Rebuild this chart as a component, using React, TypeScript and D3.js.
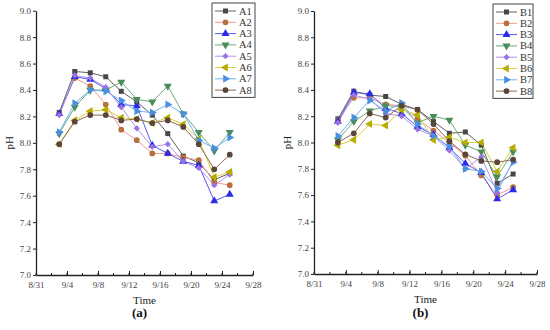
import React, { useEffect, useRef } from 'react';
import * as d3 from 'd3';

// sampling dates (every two days) and axis ticks
const dates = ['9/3', '9/5', '9/7', '9/9', '9/11', '9/13', '9/15', '9/17', '9/19', '9/21', '9/23', '9/25'];
const xTicks = ['8/31', '9/4', '9/8', '9/12', '9/16', '9/20', '9/24', '9/28'];
const yTicks = [7.0, 7.2, 7.4, 7.6, 7.8, 8.0, 8.2, 8.4, 8.6, 8.8, 9.0];

const A1 = [8.23, 8.54, 8.53, 8.50, 8.39, 8.31, 8.21, 8.07, 7.90, 7.85, 7.72, 7.77];
const A2 = [8.22, 8.49, 8.43, 8.29, 8.10, 8.02, 7.92, 7.92, 7.89, 7.87, 7.70, 7.68];
const A3 = [8.22, 8.50, 8.48, 8.41, 8.29, 8.28, 7.98, 7.92, 7.86, 7.83, 7.56, 7.61];
const A4 = [8.07, 8.27, 8.40, 8.40, 8.46, 8.33, 8.31, 8.43, 8.22, 8.08, 7.94, 8.08];
const A5 = [8.21, 8.51, 8.49, 8.42, 8.27, 8.11, 7.97, 7.99, 7.86, 7.81, 7.68, 7.76];
const A6 = [7.99, 8.17, 8.24, 8.25, 8.19, 8.18, 8.15, 8.19, 8.14, 8.03, 7.74, 7.78];
const A7 = [8.08, 8.30, 8.40, 8.39, 8.32, 8.24, 8.23, 8.29, 8.22, 8.02, 7.96, 8.04];
const A8 = [7.99, 8.16, 8.21, 8.21, 8.17, 8.18, 8.15, 8.17, 8.12, 7.99, 7.80, 7.91];

const B1 = [8.18, 8.39, 8.36, 8.35, 8.29, 8.25, 8.16, 8.07, 8.08, 7.98, 7.69, 7.76];
const B2 = [8.17, 8.34, 8.34, 8.29, 8.28, 8.18, 8.09, 8.00, 7.90, 7.75, 7.60, 7.66];
const B3 = [8.16, 8.38, 8.37, 8.26, 8.22, 8.12, 8.06, 7.96, 7.84, 7.77, 7.57, 7.64];
const B4 = [8.02, 8.16, 8.24, 8.28, 8.27, 8.15, 8.20, 8.17, 7.98, 7.93, 7.74, 7.93];
const B5 = [8.15, 8.36, 8.33, 8.22, 8.20, 8.10, 8.05, 7.94, 7.80, 7.89, 7.62, 7.86];
const B6 = [7.98, 8.02, 8.14, 8.13, 8.25, 8.21, 8.02, 8.04, 8.00, 8.00, 7.78, 7.96];
const B7 = [8.05, 8.19, 8.32, 8.24, 8.30, 8.14, 8.05, 7.97, 7.80, 7.78, 7.65, 7.85];
const B8 = [8.00, 8.07, 8.22, 8.19, 8.28, 8.25, 8.14, 8.01, 7.91, 7.86, 7.85, 7.87];

const seriesA = [A1, A2, A3, A4, A5, A6, A7, A8];
const seriesB = [B1, B2, B3, B4, B5, B6, B7, B8];
const namesA = ['A1', 'A2', 'A3', 'A4', 'A5', 'A6', 'A7', 'A8'];
const namesB = ['B1', 'B2', 'B3', 'B4', 'B5', 'B6', 'B7', 'B8'];

const markerColors = ['#474747', '#b8703c', '#2b2be6', '#4a8c5c', '#9a72e6', '#b5ad00', '#4a8fe0', '#5a4538'];
const lineColors = ['#606060', '#f29a92', '#5656f0', '#6aaa7c', '#ae92f0', '#dccf3a', '#70b2f2', '#87695a'];
// marker shape + rotation + area
const shapes: [d3.SymbolType, number, number][] = [
  [d3.symbolSquare, 0, 25],
  [d3.symbolCircle, 0, 26],
  [d3.symbolTriangle, 0, 28],
  [d3.symbolTriangle, 180, 28],
  [d3.symbolSquare, 45, 20],
  [d3.symbolTriangle, -90, 28],
  [d3.symbolTriangle, 90, 28],
  [d3.symbolCircle, 0, 26],
];

const parse = d3.timeParse('%m/%d/%Y');
const toDate = (s: string) => parse(s + '/2020') as Date;
const font = '"Liberation Serif", "DejaVu Serif", serif';

const App = () => {
  const svgRef = useRef<SVGSVGElement>(null);

  useEffect(() => {
    document.body.style.margin = '0';
    const svg = d3.select(svgRef.current);
    svg.selectAll('*').remove();

    const drawPanel = (left: number, right: number, top: number, bottom: number, data: number[][], names: string[], tag: string, legend: { x: number; y: number; w: number }) => {
      const g = svg.append('g');
      const x = d3.scaleTime()
        .domain([toDate(xTicks[0]), toDate(xTicks[xTicks.length - 1])])
        .range([left, right]);
      const y = d3.scaleLinear().domain([7, 9]).range([bottom, top]);

      // minor ticks on x (every 2 days)
      const minor = d3.timeDay.range(toDate(xTicks[0]), d3.timeDay.offset(toDate(xTicks[xTicks.length - 1]), 1), 2);
      g.selectAll('.minor')
        .data(minor)
        .join('line')
        .attr('x1', d => x(d)).attr('x2', d => x(d))
        .attr('y1', bottom).attr('y2', bottom - 2)
        .attr('stroke', '#222').attr('stroke-width', 1);

      const xAxis = d3.axisBottom(x)
        .tickValues(xTicks.map(toDate))
        .tickFormat((d, i) => xTicks[i])
        .tickSizeInner(-4)
        .tickSizeOuter(0)
        .tickPadding(7);
      const gx = g.append('g').attr('transform', `translate(0,${bottom})`).call(xAxis);
      gx.select('.domain').attr('stroke', '#222').attr('stroke-width', 1.3);
      gx.selectAll('.tick line').attr('stroke', '#222');
      gx.selectAll('text').attr('font-family', font).attr('font-size', 9).attr('fill', '#444');

      const yAxis = d3.axisLeft(y)
        .tickValues(yTicks)
        .tickFormat(d3.format('.1f'))
        .tickSizeInner(3)
        .tickSizeOuter(0)
        .tickPadding(2);
      const gy = g.append('g').attr('transform', `translate(${left},0)`).call(yAxis);
      gy.select('.domain').attr('stroke', '#222').attr('stroke-width', 1.3);
      gy.selectAll('.tick line').attr('stroke', '#222');
      gy.selectAll('text').attr('font-family', font).attr('font-size', 9).attr('fill', '#444');

      g.append('text')
        .attr('x', (left + right) / 2).attr('y', bottom + 29)
        .attr('text-anchor', 'middle')
        .attr('font-family', font).attr('font-size', 11).attr('fill', '#222')
        .text('Time');
      g.append('text')
        .attr('transform', `translate(${left - 23},${(top + bottom) / 2}) rotate(-90)`)
        .attr('text-anchor', 'middle')
        .attr('font-family', font).attr('font-size', 11).attr('fill', '#222')
        .text('pH');
      g.append('text')
        .attr('x', (left + right) / 2 - 5).attr('y', 317)
        .attr('text-anchor', 'middle')
        .attr('font-family', font).attr('font-size', 13).attr('font-weight', 'bold').attr('fill', '#111')
        .text(tag);

      const line = d3.line<number>()
        .x((d, i) => x(toDate(dates[i])))
        .y(d => y(d));

      data.forEach((vals, s) => {
        g.append('path')
          .attr('d', line(vals))
          .attr('fill', 'none')
          .attr('stroke', lineColors[s])
          .attr('stroke-width', 1);
      });
      data.forEach((vals, s) => {
        const [type, rot, size] = shapes[s];
        g.selectAll(`.m${s}`)
          .data(vals)
          .join('path')
          .attr('d', d3.symbol().type(type).size(size)())
          .attr('transform', (d, i) => `translate(${x(toDate(dates[i]))},${y(d)}) rotate(${rot})`)
          .attr('fill', markerColors[s]);
      });

      // legend
      const step = 11.3;
      const lg = g.append('g');
      lg.append('rect')
        .attr('x', legend.x).attr('y', legend.y)
        .attr('width', legend.w).attr('height', step * names.length + 4)
        .attr('fill', 'white').attr('stroke', '#444').attr('stroke-width', 1);
      names.forEach((n, s) => {
        const cy = legend.y + 8 + s * step;
        const [type, rot, size] = shapes[s];
        lg.append('line')
          .attr('x1', legend.x + 3).attr('x2', legend.x + 24)
          .attr('y1', cy).attr('y2', cy)
          .attr('stroke', lineColors[s]).attr('stroke-width', 1);
        lg.append('path')
          .attr('d', d3.symbol().type(type).size(size)())
          .attr('transform', `translate(${legend.x + 13.5},${cy}) rotate(${rot})`)
          .attr('fill', markerColors[s]);
        lg.append('text')
          .attr('x', legend.x + 27).attr('y', cy + 3.5)
          .attr('font-family', font).attr('font-size', 10.5).attr('fill', '#333')
          .text(n);
      });
    };

    drawPanel(36, 253, 10.7, 275, seriesA, namesA, '(a)', { x: 212, y: 3, w: 43 });
    drawPanel(314, 537, 11, 274, seriesB, namesB, '(b)', { x: 493, y: 4, w: 40 });
  });

  return <svg ref={svgRef} width={550} height={330} style={{ display: 'block', background: 'white' }}></svg>;
};

export default App;
